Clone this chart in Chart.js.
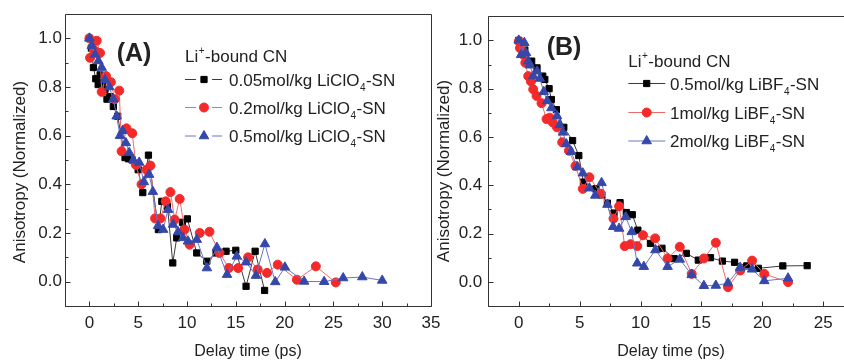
<!DOCTYPE html>
<html><head><meta charset="utf-8">
<script src="https://cdn.jsdelivr.net/npm/chart.js@4.4.1/dist/chart.umd.min.js"></script>
<style>
html,body{margin:0;padding:0;background:#fff;overflow:hidden;width:844px;height:361px;position:relative}
#pa{position:absolute;left:0;top:0;width:452px;height:361px}
#pb{position:absolute;left:436px;top:0;width:436px;height:361px}
</style></head><body>
<div id="pa"><canvas id="ca"></canvas></div>
<div id="pb"><canvas id="cb"></canvas></div>
<script>
// ---------- DATA ----------
// Panel A: LiClO4-SN
const aT005 = [0, 0.2, 0.41, 0.65, 0.9, 1.1, 1.35, 1.6, 1.8, 2.1, 2.45, 2.9, 3.65, 4.0, 4.4, 5.0, 5.47, 6.05, 7.07, 7.42, 8.0, 8.54, 8.95, 9.53, 10.04, 11.0, 12.03, 12.98, 14.0, 15.0, 16.05, 16.98, 17.95];
const aR005 = [1.0, 0.96, 0.88, 0.834, 0.81, 0.85, 0.82, 0.79, 0.75, 0.76, 0.72, 0.68, 0.51, 0.505, 0.50, 0.46, 0.366, 0.52, 0.214, 0.33, 0.31, 0.077, 0.18, 0.244, 0.258, 0.118, 0.084, 0.118, 0.125, 0.129, -0.019, 0.125, -0.036];
const aT02 = [0, 0.07, 0.5, 0.75, 1.09, 1.26, 1.7, 2.2, 2.6, 3.06, 3.3, 3.8, 4.39, 4.76, 5.34, 5.85, 6.26, 6.73, 7.28, 7.82, 8.3, 8.74, 9.25, 9.76, 10.27, 11.3, 12.3, 13.33, 14.29, 15.24, 16.26, 17.24, 18.2, 19.3, 21.26, 23.2, 25.24];
const aR02 = [1.0, 0.92, 0.95, 0.99, 0.94, 0.78, 0.845, 0.82, 0.75, 0.785, 0.536, 0.63, 0.61, 0.48, 0.40, 0.46, 0.477, 0.26, 0.26, 0.33, 0.368, 0.255, 0.34, 0.214, 0.152, 0.2, 0.205, 0.118, 0.056, 0.056, 0.1, 0.05, 0.036, 0.07, 0.008, 0.063, -0.003];
const aT05 = [0, 0.24, 0.58, 0.92, 1.26, 1.6, 2.04, 2.45, 2.79, 3.13, 3.4, 3.74, 4.08, 4.5, 5.1, 5.58, 6.12, 6.5, 7.04, 7.55, 8.06, 8.57, 9.08, 9.6, 10.1, 11.0, 12.04, 13.06, 14.1, 15.1, 16.05, 17.07, 17.98, 19.04, 20.03, 22.0, 24.05, 26.0, 27.96, 30.0];
const aR05 = [1.0, 0.97, 0.934, 0.907, 0.88, 0.83, 0.80, 0.75, 0.68, 0.60, 0.62, 0.57, 0.53, 0.50, 0.49, 0.41, 0.44, 0.37, 0.23, 0.214, 0.296, 0.235, 0.204, 0.18, 0.166, 0.173, 0.056, 0.14, 0.029, 0.104, 0.08, 0.025, 0.155, -0.001, 0.059, 0.001, 0.0, 0.015, 0.019, 0.005];

// Panel B: LiBF4-SN
const bT05 = [0, 0.5, 1.06, 1.5, 1.97, 2.14, 2.49, 2.68, 3.09, 3.7, 4.42, 4.93, 5.31, 6.34, 6.8, 7.28, 7.82, 8.32, 8.83, 9.32, 9.78, 10.81, 11.76, 12.76, 13.76, 14.74, 15.74, 16.72, 17.72, 18.72, 19.67, 21.68, 23.68];
const bR05 = [1.0, 0.96, 0.914, 0.886, 0.852, 0.838, 0.80, 0.755, 0.713, 0.64, 0.585, 0.523, 0.413, 0.386, 0.36, 0.326, 0.285, 0.328, 0.287, 0.278, 0.214, 0.159, 0.139, 0.096, 0.118, 0.09, 0.1, 0.086, 0.081, 0.066, 0.056, 0.066, 0.067];
const bT1 = [0, 0.1, 0.38, 0.54, 0.78, 1.0, 1.19, 1.46, 1.87, 2.28, 2.55, 2.8, 3.14, 3.57, 4.12, 4.66, 5.26, 5.8, 6.75, 7.78, 8.24, 8.7, 9.18, 9.73, 10.2, 11.2, 12.22, 13.22, 14.2, 15.2, 16.18, 17.18, 18.18, 19.16, 20.16, 22.11];
const bR1 = [0.996, 0.968, 0.94, 0.907, 0.852, 0.83, 0.797, 0.77, 0.74, 0.674, 0.68, 0.66, 0.64, 0.578, 0.543, 0.48, 0.385, 0.433, 0.365, 0.262, 0.313, 0.148, 0.156, 0.148, 0.193, 0.18, 0.097, 0.145, 0.033, 0.097, 0.162, -0.022, 0.047, 0.088, 0.033, -0.001];
const bT2 = [0, 0.19, 0.46, 0.6, 0.78, 0.92, 1.19, 1.51, 1.73, 2.05, 2.33, 2.68, 3.14, 3.36, 3.63, 3.9, 4.3, 4.8, 5.26, 5.8, 6.28, 6.8, 7.28, 7.75, 8.24, 8.78, 9.27, 9.73, 10.27, 11.22, 12.22, 13.22, 14.2, 15.2, 16.18, 17.18, 18.18, 19.16, 20.16, 22.11];
const bR2 = [1.0, 0.94, 0.99, 0.948, 0.913, 0.897, 0.852, 0.872, 0.842, 0.787, 0.749, 0.72, 0.687, 0.65, 0.619, 0.571, 0.539, 0.475, 0.45, 0.388, 0.358, 0.41, 0.32, 0.228, 0.221, 0.269, 0.207, 0.077, 0.063, 0.132, 0.063, 0.093, 0.029, -0.016, -0.015, -0.005, 0.059, 0.052, 0.004, 0.015];

// Ticks and labels
const aXTicks = [0, 5, 10, 15, 20, 25, 30, 35];
const bXTicks = [0, 5, 10, 15, 20, 25];
const yTicks = [0, 0.2, 0.4, 0.6, 0.8, 1.0];
const yTickLabels = ['0.0', '0.2', '0.4', '0.6', '0.8', '1.0'];
const xTitle = 'Delay time (ps)';
const yTitle = 'Anisotropy (Normalized)';
const legendTitle = [['Li', 'n'], ['+', 'sup'], ['-bound CN', 'n']];
const aLegend = [
  [['0.05mol/kg LiClO', 'n'], ['4', 'sub'], ['-SN', 'n']],
  [['0.2mol/kg LiClO', 'n'], ['4', 'sub'], ['-SN', 'n']],
  [['0.5mol/kg LiClO', 'n'], ['4', 'sub'], ['-SN', 'n']]
];
const bLegend = [
  [['0.5mol/kg LiBF', 'n'], ['4', 'sub'], ['-SN', 'n']],
  [['1mol/kg LiBF', 'n'], ['4', 'sub'], ['-SN', 'n']],
  [['2mol/kg LiBF', 'n'], ['4', 'sub'], ['-SN', 'n']]
];
const aLabel = '(A)';
const bLabel = '(B)';

// ---------- STYLE ----------
const FONT = "'Liberation Sans', Arial, Helvetica, sans-serif";
const styles = [
  {line: '#3a3a3a', fill: '#000000', point: 'rect', r: 4.4},
  {line: '#f06a6a', fill: '#f42a2a', point: 'circle', r: 4.5},
  {line: '#6a76c6', fill: '#3548aa', point: 'triangle', r: 5.5}
];
const pairs = (t, r) => t.map((v, i) => ({x: v, y: r[i]}));

function ds(label, t, r, s, order) {
  return {
    label, data: pairs(t, r), order,
    borderColor: s.line, borderWidth: 1,
    backgroundColor: s.fill, pointBackgroundColor: s.fill, pointBorderColor: s.fill,
    pointBorderWidth: 1, pointStyle: s.point, pointRadius: s.r, pointHoverRadius: s.r,
    tension: 0, fill: false
  };
}

function richText(ctx, parts, x, base, size) {
  let cx = x;
  for (const [t, mode] of parts) {
    if (mode === 'n') {
      ctx.font = size + 'px ' + FONT;
      ctx.fillText(t, cx, base);
    } else if (mode === 'sub') {
      ctx.font = Math.round(size * 0.6) + 'px ' + FONT;
      ctx.fillText(t, cx + 0.5, base + 5);
    } else {
      ctx.font = Math.round(size * 0.6) + 'px ' + FONT;
      ctx.fillText(t, cx + 0.5, base - 8);
    }
    cx += ctx.measureText(t).width + (mode === 'n' ? 0 : 1);
  }
}

const decorPlugin = {
  id: 'decor',
  afterDraw(chart, args, o) {
    const {ctx, chartArea: a, scales: {x, y}} = chart;
    ctx.save();
    ctx.strokeStyle = '#333';
    ctx.lineWidth = 1;
    const L = Math.round(a.left) + 0.5, T = Math.round(a.top) + 0.5;
    const R = Math.round(a.right) + 0.5, B = Math.round(a.bottom) + 0.5;
    ctx.beginPath();
    ctx.moveTo(L, T); ctx.lineTo(R, T); ctx.lineTo(R, B); ctx.lineTo(L, B); ctx.closePath();
    // x ticks (inside)
    for (let v = o.xMin; v <= o.xMax + 1e-9; v += 2.5) {
      const major = Math.abs(v / 5 - Math.round(v / 5)) < 1e-6;
      const px = Math.round(x.getPixelForValue(v)) + 0.5;
      ctx.moveTo(px, B); ctx.lineTo(px, B - (major ? 5 : 3));
    }
    for (let k = -1; k <= 11; k++) {
      const v = k / 10;
      const major = k % 2 === 0;
      const py = Math.round(y.getPixelForValue(v)) + 0.5;
      ctx.moveTo(L, py); ctx.lineTo(L + (major ? 5 : 3), py);
    }
    ctx.stroke();

    ctx.fillStyle = '#222';
    // y title
    ctx.save();
    ctx.translate(o.yTitleX, o.yTitleY);
    ctx.rotate(-Math.PI / 2);
    ctx.textAlign = 'center';
    ctx.textBaseline = 'middle';
    ctx.font = '17px ' + FONT;
    ctx.fillText(yTitle, 0, 0);
    ctx.restore();

    // panel label
    ctx.font = 'bold 25px ' + FONT;
    ctx.textAlign = 'center';
    ctx.textBaseline = 'alphabetic';
    ctx.fillText(o.label, o.labelX, o.labelY);

    // legend
    ctx.textAlign = 'left';
    richText(ctx, legendTitle, o.legX, o.legTitleBase, 17);
    o.legend.forEach((parts, i) => {
      const s = styles[i];
      const cy = o.legRows[i];
      ctx.strokeStyle = s.line;
      ctx.lineWidth = 1;
      ctx.beginPath();
      if (o.gap) {
        ctx.moveTo(o.legX, cy + 0.5); ctx.lineTo(o.legMark - 8, cy + 0.5);
        ctx.moveTo(o.legMark + 8, cy + 0.5); ctx.lineTo(o.legX + o.legW, cy + 0.5);
      } else {
        ctx.moveTo(o.legX, cy + 0.5); ctx.lineTo(o.legX + o.legW, cy + 0.5);
      }
      ctx.stroke();
      ctx.fillStyle = s.fill;
      ctx.strokeStyle = s.fill;
      Chart.helpers.drawPoint(ctx, {pointStyle: s.point, radius: s.r, borderWidth: 1, rotation: 0}, o.legMark, cy + 0.5);
      ctx.fillStyle = '#222';
      richText(ctx, parts, o.legTextX, cy + 6.5, 17);
    });
    ctx.restore();
  }
};

function makeChart(canvasId, datasets, xMin, xMax, xTicks, padRight, yWidth, yPad, decor) {
  return new Chart(document.getElementById(canvasId), {
    type: 'line',
    data: {datasets},
    plugins: [decorPlugin],
    options: {
      responsive: true, maintainAspectRatio: false, animation: false, devicePixelRatio: 1,
      layout: {padding: {left: 0, top: 14, right: padRight, bottom: 0}},
      plugins: {legend: {display: false}, tooltip: {enabled: false}, decor},
      scales: {
        x: {
          type: 'linear', min: xMin, max: xMax,
          afterBuildTicks: s => { s.ticks = xTicks.map(v => ({value: v})); },
          afterFit: s => { s.height = 55; },
          grid: {display: false, drawTicks: false}, border: {display: false},
          ticks: {autoSkip: false, maxRotation: 0, padding: 7, color: '#222', font: {family: FONT, size: 17}},
          title: {display: true, text: xTitle, color: '#222', font: {family: FONT, size: 16}, padding: {top: 0, bottom: 0}}
        },
        y: {
          type: 'linear', min: -0.1, max: 1.1,
          afterBuildTicks: s => { s.ticks = yTicks.map(v => ({value: v})); },
          afterFit: s => { s.width = yWidth; },
          grid: {display: false, drawTicks: false}, border: {display: false},
          ticks: {autoSkip: false, padding: yPad, color: '#222', font: {family: FONT, size: 17},
            callback: (v, i) => yTickLabels[i]}
        }
      }
    }
  });
}

makeChart('ca', [
  ds('0.05mol/kg LiClO4-SN', aT005, aR005, styles[0], 2),
  ds('0.2mol/kg LiClO4-SN', aT02, aR02, styles[1], 1),
  ds('0.5mol/kg LiClO4-SN', aT05, aR05, styles[2], 0)
], -2.5, 35, aXTicks, 452 - 431, 65, 3, {
  xMin: -2.5, xMax: 35, yTitleX: 20, yTitleY: 172,
  label: aLabel, labelX: 134, labelY: 61,
  legend: aLegend, gap: true, legX: 185, legW: 37, legMark: 204, legTextX: 229,
  legTitleBase: 61.5, legRows: [79, 107, 135.5]
});

makeChart('cb', [
  ds('0.5mol/kg LiBF4-SN', bT05, bR05, styles[0], 2),
  ds('1mol/kg LiBF4-SN', bT1, bR1, styles[1], 1),
  ds('2mol/kg LiBF4-SN', bT2, bR2, styles[2], 0)
], -2.5, 27.5, bXTicks, 436 - 417.7, 52.3, 6, {
  xMin: -2.5, xMax: 27.5, yTitleX: 8.5, yTitleY: 171,
  label: bLabel, labelX: 128, labelY: 55,
  legend: bLegend, gap: false, legX: 192.3, legW: 37, legMark: 210.7, legTextX: 234,
  legTitleBase: 66.5, legRows: [83, 112, 140.5]
});
</script>
</body></html>
